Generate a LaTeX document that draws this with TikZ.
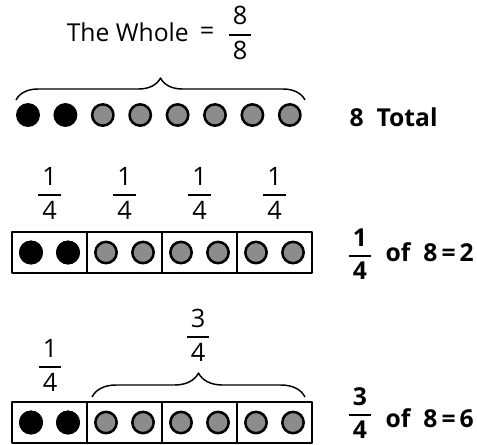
\documentclass[tikz,border=0pt]{standalone}
\usepackage{amsmath}
\usepackage{fontspec}
\setmainfont{Open Sans}
\usetikzlibrary{decorations.pathreplacing, calc}
\tikzset{>=latex}
\definecolor{dotgray}{RGB}{140,140,140}
\newcommand{\qfrac}[2]{$\displaystyle\genfrac{}{}{1.3pt}{}{\text{\,#1\,}}{\text{\,#2\,}}$}

\begin{document}
\begin{tikzpicture}[x=0.75pt, y=-0.75pt, line join = round,
    dot/.style = {circle, draw, line width=1.9pt, minimum size=16pt, inner sep=0pt},
    cell/.style = {rectangle, draw, line width=1.4pt, minimum width=56.25pt, minimum height=30.75pt, inner sep=0pt},
    curly/.style = {decorate, decoration={brace, amplitude=#1}, line width=1.1pt},
    txt/.style = {font=\fontsize{19}{22}\selectfont},
    btxt/.style = {font=\fontsize{18.5}{22}\selectfont\bfseries}]
    \useasboundingbox (0,0) rectangle (477,444);
    % the whole
    \node[font=\fontsize{18.5}{22}\selectfont, anchor=base east, inner sep=0pt] (whole) at (189,41) {The Whole};
    \node[txt] (eq) at (207,33) {=};
    \node[txt] (whfrac) at (240,33) {\qfrac{8}{8}};
    \draw[curly=16.5pt] (16,100) -- (305,100);
    \foreach \i in {1,2} \node[dot, fill=black] (t\i) at ({28+37.4*(\i-1)},115) {};
    \foreach \i in {3,...,8} \node[dot, fill=dotgray] (t\i) at ({28+37.4*(\i-1)},115) {};
    \node[btxt, anchor=base west] (total) at (345,126) {8\ \ Total};
    % fourths
    \foreach \i in {1,...,4} {
        \node[cell] (c\i) at ({49.5+75*(\i-1)},252.5) {};
        \node[txt] (f\i) at ({49.5+75*(\i-1)},193) {\qfrac{1}{4}};
    }
    \foreach \i in {1,...,4} {
        \node[dot, fill=dotgray] (ca\i) at ($(c\i.center)+(-18.5,0)$) {};
        \node[dot, fill=dotgray] (cb\i) at ($(c\i.center)+(18.5,0)$) {};
    }
    \node[dot, fill=black] at (ca1) {};
    \node[dot, fill=black] at (cb1) {};
    \node[btxt] (oneq) at (360,254) {\qfrac{1}{4}};
    \node[btxt, anchor=base west] (res2) at (381,261) {of\ \ 8\,=\,2};
    % three fourths
    \foreach \i in {1,...,4} \node[cell] (d\i) at ({49.5+75*(\i-1)},422.5) {};
    \foreach \i in {1,...,4} {
        \node[dot, fill=dotgray] (da\i) at ($(d\i.center)+(-18.5,0)$) {};
        \node[dot, fill=dotgray] (db\i) at ($(d\i.center)+(18.5,0)$) {};
    }
    \node[dot, fill=black] at (da1) {};
    \node[dot, fill=black] at (db1) {};
    \node[txt] (g1) at (50,365) {\qfrac{1}{4}};
    \draw[curly=18pt] (92,397) -- (305,397);
    \node[txt] (g2) at (198,335) {\qfrac{3}{4}};
    \node[btxt, inner sep=0pt] (threeq) at (360,413) {\qfrac{3}{4}};
    \node[btxt, anchor=base west] (res3) at (381,427) {of\ \ 8\,=\,6};
\end{tikzpicture}
\end{document}
